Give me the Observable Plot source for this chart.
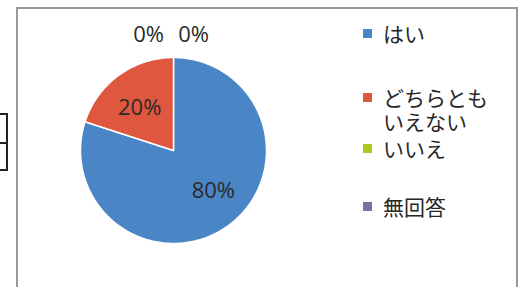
<!DOCTYPE html>
<html>
<head>
<meta charset="utf-8">
<script src="https://cdn.jsdelivr.net/npm/d3@7"></script>
<script src="https://cdn.jsdelivr.net/npm/@observablehq/plot@0.6"></script>
<style>
  html, body { margin: 0; padding: 0; background: #fff; }
  #wrap { position: relative; width: 524px; height: 287px; overflow: hidden; background: #fff; }
  #chart { position: absolute; left: 0; top: 0; }
  #frame { position: absolute; left: 16px; top: 7px; width: 502px; height: 300px; border: 2px solid #9a9a9a; box-sizing: border-box; }
  #stub { position: absolute; left: -4px; top: 113px; width: 12px; height: 58px; border: 2px solid #222; box-sizing: border-box; }
  #stub .mid { position: absolute; left: 0; right: 0; top: 27px; border-top: 2px solid #222; }
  .item { position: absolute; left: 363px; display: flex; align-items: flex-start; font-family: "Noto Sans CJK JP", sans-serif; font-size: 21px; line-height: 24px; color: #262626; }
  .sw { width: 9px; height: 9px; margin-top: 8px; margin-right: 11px; flex: none; }
  .lab { width: 112px; }
</style>
</head>
<body>
<div id="wrap">
  <div id="chart"></div>
  <div id="frame"></div>
  <div id="stub"><div class="mid"></div></div>
  <div id="legend"></div>
</div>
<script>
const categories = ["はい", "どちらともいえない", "いいえ", "無回答"];
const values = [80, 20, 0, 0];
const pctLabels = ["80%", "20%", "0%", "0%"];
const colors = ["#4A86C6", "#E0573F", "#A9CB1E", "#7C6FA6"];

// pixel geometry (style)
const cx = 173, cy = 150, R = 93, W = 524, H = 287;
const legendTops = [21, 85, 136, 194];
const labelDx = [7, -1, -25, 20];
const labelDy = [-5, 3, 0, 0];

const total = d3.sum(values);
let acc = 0;
const slices = categories.map((c, i) => {
  const a0 = acc / total * 2 * Math.PI;
  acc += values[i];
  const a1 = acc / total * 2 * Math.PI;
  return {cat: c, value: values[i], label: pctLabels[i], a0, a1, i};
});

const pts = [];
for (const s of slices) {
  if (s.value <= 0) continue;
  pts.push({cat: s.cat, x: 0, y: 0});
  const n = Math.max(2, Math.ceil((s.a1 - s.a0) / (Math.PI / 180)));
  for (let k = 0; k <= n; k++) {
    const a = s.a0 + (s.a1 - s.a0) * k / n;
    pts.push({cat: s.cat, x: Math.sin(a), y: Math.cos(a)});
  }
  pts.push({cat: s.cat, x: 0, y: 0});
}

const labelData = slices.map(s => {
  const mid = (s.a0 + s.a1) / 2;
  const r = s.value > 0 ? 0.6 : 1.24;
  return {label: s.label, x: r * Math.sin(mid), y: r * Math.cos(mid), i: s.i};
});

const textMarks = labelData.map(d => Plot.text([d], {
  x: "x", y: "y", text: "label",
  dx: labelDx[d.i], dy: labelDy[d.i],
  fill: "#2a2a2a", fontSize: 22, fontFamily: "'Open Sans', sans-serif"
}));

const plot = Plot.plot({
  width: W, height: H,
  margin: 0,
  x: {domain: [-cx / R, (W - cx) / R], axis: null},
  y: {domain: [-(H - cy) / R, cy / R], axis: null},
  color: {domain: categories, range: colors},
  marks: [
    Plot.line(pts, {x: "x", y: "y", z: "cat", fill: "cat", stroke: "white", strokeWidth: 1.5, strokeLinejoin: "round"}),
    ...textMarks
  ]
});
plot.style.background = "transparent";
document.getElementById("chart").appendChild(plot);

const legend = document.getElementById("legend");
categories.forEach((c, i) => {
  const it = document.createElement("div");
  it.className = "item";
  it.style.top = legendTops[i] + "px";
  const sw = document.createElement("div");
  sw.className = "sw";
  sw.style.background = colors[i];
  const lab = document.createElement("div");
  lab.className = "lab";
  lab.textContent = c;
  it.appendChild(sw);
  it.appendChild(lab);
  legend.appendChild(it);
});
</script>
</body>
</html>
